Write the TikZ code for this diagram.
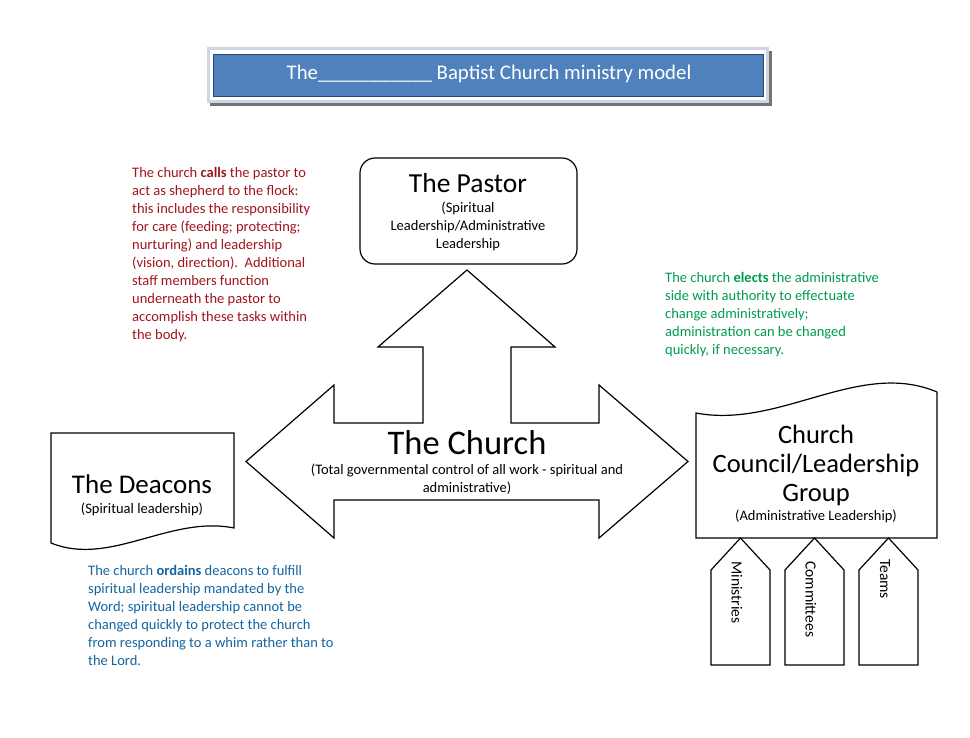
\documentclass[tikz,border=0pt]{standalone}
\usepackage{fontspec}
\setmainfont{Carlito}
\usetikzlibrary{positioning}
\definecolor{chred}{RGB}{160,20,30}
\definecolor{chgreen}{RGB}{0,155,80}
\definecolor{chblue}{RGB}{20,100,160}
\definecolor{barblue}{RGB}{79,129,189}
\definecolor{barnavy}{RGB}{40,70,120}
\definecolor{barframe}{RGB}{205,214,228}

\begin{document}
\begin{tikzpicture}[x=1pt, y=-1pt,
  outline/.style={draw=black, line width=1.2pt, fill=white, line join=miter},
  bigtxt/.style={font=\fontsize{26.5}{29}\selectfont, inner sep=0pt, align=center},
  smalltxt/.style={font=\fontsize{14.5}{18}\selectfont, inner sep=0pt, align=center},
  note/.style={font=\fontsize{14.5}{18}\selectfont, inner sep=0pt, align=left, anchor=north west},
  tabtxt/.style={font=\fontsize{15.5}{18}\selectfont, inner sep=0pt, rotate=-90, anchor=west}]
\useasboundingbox (0,0) rectangle (970,737);

% Title bar
\fill[black!55] (210,51) rectangle (772,106);
\fill[barframe] (207,47) rectangle (769,103);
\fill[white] (210,50) rectangle (766,100);
\filldraw[fill=barblue, draw=barnavy, line width=1pt] (213,54) rectangle (763,96);
\node[text=white, font=\fontsize{20.8}{24}\selectfont, inner sep=0pt] (title) at (489,74)
      {The\_\_\_\_\_\_\_\_\_\_\_ Baptist Church ministry model};

% The church: double arrow with a stem up to the pastor
\draw[outline] (246,461.5) -- (334,385) -- (334,423) -- (423,423) -- (423,347)
      -- (378,347) -- (467,270) -- (555,347) -- (511,347) -- (511,423)
      -- (599,423) -- (599,385) -- (688,461.5) -- (599,538) -- (599,500)
      -- (334,500) -- (334,538) -- cycle;
\node[font=\fontsize{34.5}{38}\selectfont, inner sep=0pt] (church) at (467,443) {The Church};
\node[smalltxt, below=8pt of church] (churchsub)
      {(Total governmental control of all work - spiritual and\\administrative)};

% Pastor (rounded box on top)
\node[outline, rounded corners=15pt, minimum width=217pt, minimum height=106pt] (pastorbox) at (468.5,211) {};
\node[font=\fontsize{27.5}{30}\selectfont, inner sep=0pt] (pastor) at (468,183) {The Pastor};
\node[smalltxt, below=8.5pt of pastor] (pastorsub)
      {(Spiritual\\Leadership/Administrative\\Leadership};

% Deacons (document shape, wave at the bottom)
\draw[outline] (51,543) -- (51,433) -- (234,433) -- (234,528)
      .. controls (170,515) and (110,567) .. (51,543) -- cycle;
\node[font=\fontsize{27}{30}\selectfont, inner sep=0pt] (deacons) at (142,484) {The Deacons};
\node[smalltxt, below=9pt of deacons] (deaconssub) {(Spiritual leadership)};

% Church council (document shape, wave on top)
\draw[outline] (696,538) -- (937,538) -- (937,392)
      .. controls (859,359) and (780,429) .. (696,413) -- cycle;
\node[bigtxt] (council) at (816,465) {Church\\Council/Leadership\\Group};
\node[smalltxt, below=4.5pt of council] (councilsub) {(Administrative Leadership)};

% Tabs under the council
\draw[outline] (711,665) -- (711,570) -- (740.5,538) -- (770,570) -- (770,665) -- cycle;
\node[tabtxt] (ministries) at (737,561) {Ministries};
\draw[outline] (785,665) -- (785,570) -- (814.5,538) -- (844,570) -- (844,665) -- cycle;
\node[tabtxt] (committees) at (811,561) {Committees};
\draw[outline] (859,665) -- (859,570) -- (888.5,538) -- (918,570) -- (918,665) -- cycle;
\node[tabtxt] (teams) at (885,559) {Teams};

% Notes
\node[note, text=chred] (callsnote) at (132,167)
      {The church \textbf{calls} the pastor to\\
       act as shepherd to the flock:\\
       this includes the responsibility\\
       for care (feeding; protecting;\\
       nurturing) and leadership\\
       (vision, direction).\ \ Additional\\
       staff members function\\
       underneath the pastor to\\
       accomplish these tasks within\\
       the body.};
\node[note, text=chgreen] (electsnote) at (665,272.5)
      {The church \textbf{elects} the administrative\\
       side with authority to effectuate\\
       change administratively;\\
       administration can be changed\\
       quickly, if necessary.};
\node[note, text=chblue] (ordainsnote) at (88,565.5)
      {The church \textbf{ordains} deacons to fulfill\\
       spiritual leadership mandated by the\\
       Word; spiritual leadership cannot be\\
       changed quickly to protect the church\\
       from responding to a whim rather than to\\
       the Lord.};
\end{tikzpicture}
\end{document}
